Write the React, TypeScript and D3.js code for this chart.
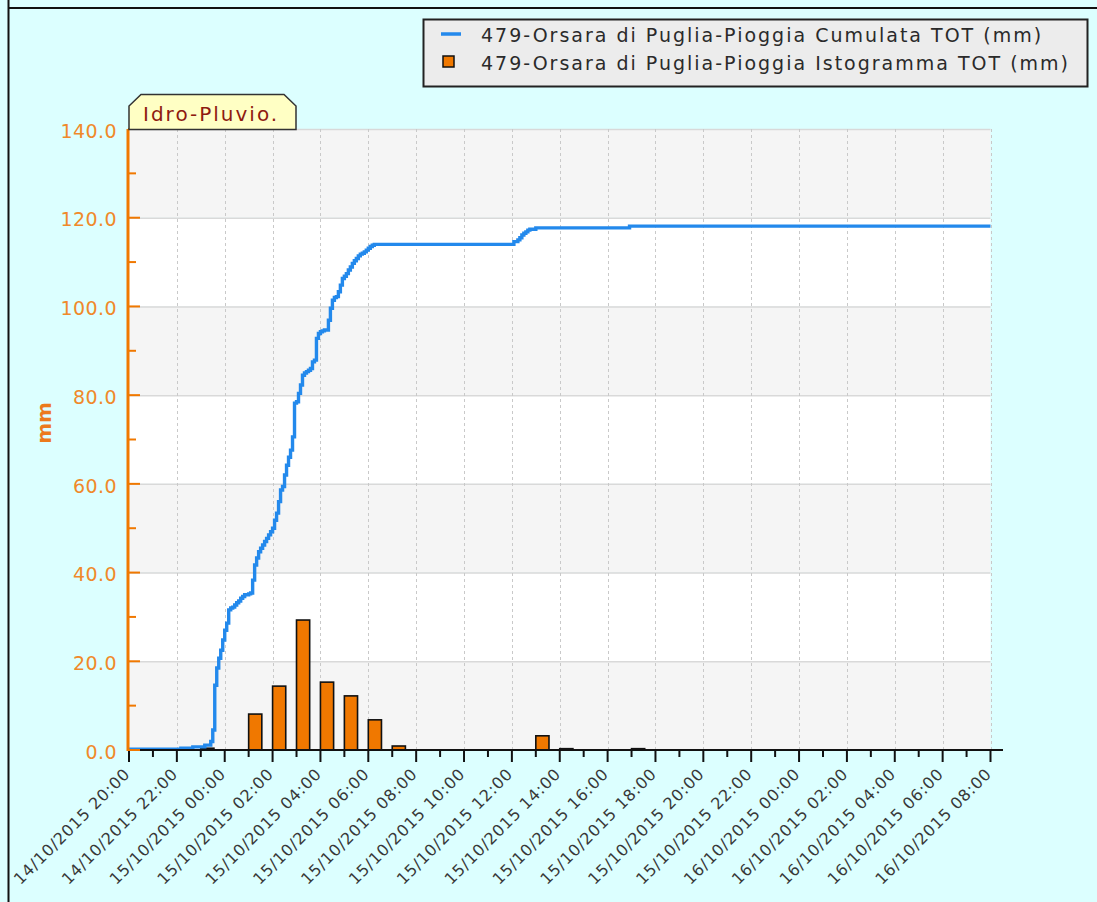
import React, { useEffect, useRef } from 'react';
import * as d3 from 'd3';

// hourly histogram (mm) - bar placed at the hour
const barTimes = [
  '14/10/2015 23:00', '15/10/2015 01:00', '15/10/2015 02:00', '15/10/2015 03:00',
  '15/10/2015 04:00', '15/10/2015 05:00', '15/10/2015 06:00', '15/10/2015 07:00',
  '15/10/2015 13:00', '15/10/2015 14:00', '15/10/2015 17:00',
];
const barValues = [0.4, 8.1, 14.4, 29.3, 15.3, 12.2, 6.8, 0.9, 3.2, 0.3, 0.3];

// cumulated rain (mm), step after
const cumTimes = [
  '14/10/2015 20:00', '14/10/2015 22:10', '14/10/2015 22:40', '14/10/2015 23:10', '14/10/2015 23:25',
  '14/10/2015 23:30', '14/10/2015 23:35', '14/10/2015 23:40', '14/10/2015 23:45', '14/10/2015 23:50',
  '14/10/2015 23:55', '15/10/2015 00:00', '15/10/2015 00:05', '15/10/2015 00:10', '15/10/2015 00:15',
  '15/10/2015 00:20', '15/10/2015 00:25', '15/10/2015 00:30', '15/10/2015 00:35', '15/10/2015 00:40',
  '15/10/2015 00:45', '15/10/2015 00:50', '15/10/2015 01:00', '15/10/2015 01:05', '15/10/2015 01:10',
  '15/10/2015 01:15', '15/10/2015 01:20', '15/10/2015 01:25', '15/10/2015 01:30', '15/10/2015 01:35',
  '15/10/2015 01:40', '15/10/2015 01:45', '15/10/2015 01:50', '15/10/2015 01:55', '15/10/2015 02:00',
  '15/10/2015 02:05', '15/10/2015 02:10', '15/10/2015 02:15', '15/10/2015 02:20', '15/10/2015 02:25',
  '15/10/2015 02:30', '15/10/2015 02:35', '15/10/2015 02:40', '15/10/2015 02:45', '15/10/2015 02:50',
  '15/10/2015 02:55', '15/10/2015 03:00', '15/10/2015 03:05', '15/10/2015 03:10', '15/10/2015 03:15',
  '15/10/2015 03:20', '15/10/2015 03:25', '15/10/2015 03:30', '15/10/2015 03:35', '15/10/2015 03:40',
  '15/10/2015 03:45', '15/10/2015 03:50', '15/10/2015 03:55', '15/10/2015 04:00', '15/10/2015 04:05',
  '15/10/2015 04:10', '15/10/2015 04:20', '15/10/2015 04:25', '15/10/2015 04:30', '15/10/2015 04:35',
  '15/10/2015 04:40', '15/10/2015 04:45', '15/10/2015 04:50', '15/10/2015 04:55', '15/10/2015 05:00',
  '15/10/2015 05:05', '15/10/2015 05:10', '15/10/2015 05:15', '15/10/2015 05:20', '15/10/2015 05:25',
  '15/10/2015 05:30', '15/10/2015 05:35', '15/10/2015 05:40', '15/10/2015 05:45', '15/10/2015 05:50',
  '15/10/2015 05:55', '15/10/2015 06:00', '15/10/2015 06:05', '15/10/2015 06:10', '15/10/2015 06:15',
  '15/10/2015 12:05', '15/10/2015 12:15', '15/10/2015 12:20', '15/10/2015 12:25', '15/10/2015 12:30',
  '15/10/2015 12:35', '15/10/2015 12:40', '15/10/2015 12:45', '15/10/2015 13:00', '15/10/2015 16:55',
  '16/10/2015 08:00',
];
const cumValues = [
  0.2, 0.4, 0.7, 1.1, 1.9,
  4.5, 14.6, 18.5, 20.7, 22.5,
  24.8, 27.0, 28.6, 31.6, 32.0,
  32.2, 32.7, 33.2, 33.6, 34.2,
  34.6, 35.0, 35.2, 35.4, 38.3,
  41.7, 43.3, 44.7, 45.5, 46.2,
  47.0, 47.7, 48.5, 49.2, 50.0,
  51.8, 53.4, 56.0, 58.6, 59.4,
  62.0, 64.2, 66.0, 67.6, 70.6,
  78.2, 78.5, 80.4, 82.3, 84.5,
  85.0, 85.3, 85.6, 86.0, 87.5,
  87.9, 92.8, 93.9, 94.3, 94.5,
  94.7, 96.9, 99.6, 101.4, 102.0,
  102.2, 103.3, 104.8, 106.3, 106.8,
  107.4, 108.2, 108.9, 109.7, 110.3,
  110.8, 111.4, 111.8, 112.0, 112.3,
  112.7, 113.1, 113.5, 113.8, 114.0,
  114.6, 115.0, 115.5, 116.1, 116.5,
  116.8, 117.2, 117.4, 117.7, 118.1,
  118.1,
];

const yTicks = [0, 20, 40, 60, 80, 100, 120, 140];
const xStart = '14/10/2015 20:00';
const xEnd = '16/10/2015 08:00';

const legendLabels = [
  '479-Orsara di Puglia-Pioggia Cumulata TOT (mm)',
  '479-Orsara di Puglia-Pioggia Istogramma TOT (mm)',
];

const FONT = '"DejaVu Sans", Verdana, sans-serif';
const ORANGE = '#f07800';
const BLUE = '#2389ec';

const App = () => {
  const svgRef = useRef<SVGSVGElement>(null);

  useEffect(() => {
    const W = 1097;
    const H = 902;
    const parse = d3.timeParse('%d/%m/%Y %H:%M');
    const fmt = d3.timeFormat('%d/%m/%Y %H:%M');

    const svg = d3.select(svgRef.current);
    svg.selectAll('*').remove();
    svg.attr('width', W).attr('height', H);

    // background + frame
    svg.append('rect').attr('width', W).attr('height', H).attr('fill', '#dcffff');
    svg.append('line').attr('x1', 8.5).attr('x2', 8.5).attr('y1', 0).attr('y2', H)
      .attr('stroke', '#111').attr('stroke-width', 2);
    svg.append('line').attr('x1', 8).attr('x2', W).attr('y1', 8).attr('y2', 8)
      .attr('stroke', '#111').attr('stroke-width', 2);

    const t0 = parse(xStart)!;
    const t1 = parse(xEnd)!;
    const x = d3.scaleTime().domain([t0, t1]).range([129, 990.5]);
    const y = d3.scaleLinear().domain([0, 140]).range([750, 129]);

    const plot = svg.append('g');

    // alternating bands
    d3.range(7).forEach(i => {
      plot.append('rect')
        .attr('x', x(t0)).attr('width', x(t1) - x(t0))
        .attr('y', y(20 * (i + 1))).attr('height', y(20 * i) - y(20 * (i + 1)))
        .attr('fill', i % 2 === 0 ? '#f5f5f5' : '#ffffff');
    });

    // horizontal grid
    plot.selectAll('.hgrid').data(yTicks.slice(1)).enter().append('line')
      .attr('x1', x(t0)).attr('x2', x(t1))
      .attr('y1', d => y(d) + 0.5).attr('y2', d => y(d) + 0.5)
      .attr('stroke', '#d9d9d9').attr('stroke-width', 1.5);

    const hours = d3.timeHour.range(t0, new Date(+t1 + 1));
    const majors = hours.filter((_, i) => i % 2 === 0);

    // vertical dashed grid
    plot.selectAll('.vgrid').data(majors.slice(1)).enter().append('line')
      .attr('x1', d => Math.round(x(d)) + 0.5).attr('x2', d => Math.round(x(d)) + 0.5)
      .attr('y1', y(140)).attr('y2', y(0))
      .attr('stroke', '#c9c9c9').attr('stroke-width', 1).attr('stroke-dasharray', '3,3');

    // histogram bars
    const bars = barTimes.map((t, i) => ({ t: parse(t)!, v: barValues[i] }));
    const barW = x(d3.timeMinute.offset(t0, 33)) - x(t0);
    plot.selectAll('.bar').data(bars).enter().append('rect')
      .attr('x', d => x(d.t))
      .attr('y', d => y(d.v))
      .attr('width', barW)
      .attr('height', d => y(0) - y(d.v))
      .attr('fill', ORANGE)
      .attr('stroke', '#111')
      .attr('stroke-width', 1.6);

    // cumulated line
    const cum = cumTimes.map((t, i) => ({ t: parse(t)!, v: cumValues[i] }));
    const line = d3.line<{ t: Date; v: number }>()
      .x(d => x(d.t))
      .y(d => y(d.v))
      .curve(d3.curveStepAfter);
    plot.append('path')
      .datum(cum)
      .attr('d', line)
      .attr('fill', 'none')
      .attr('stroke', BLUE)
      .attr('stroke-width', 3.4);

    // x axis
    svg.append('line').attr('x1', x(t0)).attr('x2', 1003).attr('y1', 750).attr('y2', 750)
      .attr('stroke', '#111').attr('stroke-width', 2);
    svg.selectAll('.xtick').data(hours).enter().append('line')
      .attr('x1', d => x(d)).attr('x2', d => x(d))
      .attr('y1', 750).attr('y2', (_, i) => (i % 2 === 0 ? 762 : 757))
      .attr('stroke', '#111').attr('stroke-width', 2);
    svg.selectAll('.xlabel').data(majors).enter().append('text')
      .attr('transform', d => `translate(${x(d) + 2}, 775) rotate(-45)`)
      .attr('text-anchor', 'end')
      .style('font-family', FONT)
      .style('font-size', '16px')
      .style('letter-spacing', '0.8px')
      .attr('fill', '#383838')
      .text(d => fmt(d));

    // y axis
    svg.append('line').attr('x1', 128).attr('x2', 128).attr('y1', y(140)).attr('y2', y(0) + 1)
      .attr('stroke', ORANGE).attr('stroke-width', 3);
    svg.selectAll('.ytick').data(d3.range(0, 141, 10)).enter().append('line')
      .attr('x1', 128).attr('x2', d => (d % 20 === 0 ? 140 : 136))
      .attr('y1', d => y(d)).attr('y2', d => y(d))
      .attr('stroke', ORANGE).attr('stroke-width', 2);
    svg.selectAll('.ylabel').data(yTicks).enter().append('text')
      .attr('x', 117).attr('y', d => y(d) + 2)
      .attr('dy', '0.35em')
      .attr('text-anchor', 'end')
      .style('font-family', FONT)
      .style('font-size', '19px')
      .style('letter-spacing', '0.4px')
      .attr('fill', '#f0892a')
      .text(d => d.toFixed(1));
    svg.append('text')
      .attr('transform', 'translate(51, 423) rotate(-90)')
      .attr('text-anchor', 'middle')
      .style('font-family', FONT)
      .style('font-size', '20px')
      .style('font-weight', 'bold')
      .attr('fill', '#ec7a1c')
      .text('mm');

    // Idro-Pluvio. tab
    svg.append('path')
      .attr('d', 'M129,129.5 L129,106 L141,94.5 L284,94.5 L296,106 L296,129.5 Z')
      .attr('fill', '#ffffc4').attr('stroke', '#333').attr('stroke-width', 1.5);
    svg.append('text')
      .attr('x', 143).attr('y', 121)
      .style('font-family', FONT)
      .style('font-size', '20px')
      .style('letter-spacing', '2px')
      .attr('fill', '#8e1a10')
      .text('Idro-Pluvio.');

    // legend
    const lg = svg.append('g');
    lg.append('rect').attr('x', 423.5).attr('y', 19.5).attr('width', 664).attr('height', 67)
      .attr('fill', '#ececec').attr('stroke', '#222').attr('stroke-width', 2);
    lg.append('line').attr('x1', 441).attr('x2', 461).attr('y1', 34).attr('y2', 34)
      .attr('stroke', BLUE).attr('stroke-width', 3.5);
    lg.append('rect').attr('x', 443).attr('y', 56).attr('width', 11).attr('height', 11)
      .attr('fill', ORANGE).attr('stroke', '#111').attr('stroke-width', 1.5);
    lg.selectAll('.ltext').data(legendLabels).enter().append('text')
      .attr('x', 481).attr('y', (_, i) => 41.5 + i * 28.5)
      .style('font-family', FONT)
      .style('font-size', '19px')
      .style('letter-spacing', '2px')
      .attr('fill', '#2a2a2a')
      .text(d => d);
  }, []);

  return <svg ref={svgRef} style={{ position: 'absolute', left: 0, top: 0 }}></svg>;
};

export default App;
